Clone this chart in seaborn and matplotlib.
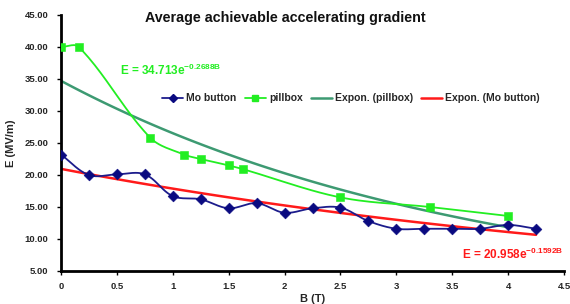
import numpy as np
import pandas as pd
import matplotlib
matplotlib.use("Agg")
import matplotlib.pyplot as plt
import seaborn as sns
from matplotlib.lines import Line2D

sns.set_style("white")
plt.rcParams['font.family'] = ['Liberation Sans', 'DejaVu Sans']
plt.rcParams['font.weight'] = 'bold'
plt.rcParams['mathtext.fontset'] = 'custom'
plt.rcParams['mathtext.bf'] = 'Liberation Sans:bold'
plt.rcParams['mathtext.rm'] = 'Liberation Sans:bold'

# Data
mo_B = [0, 0.25, 0.5, 0.75, 1.0, 1.25, 1.5, 1.75, 2.0, 2.25, 2.5, 2.75, 3.0, 3.25, 3.5, 3.75, 4.0, 4.25]
mo_E = [23.2, 20.0, 20.1, 20.1, 16.7, 16.2, 14.8, 15.6, 14.1, 14.8, 14.9, 12.8, 11.6, 11.6, 11.6, 11.6, 12.2, 11.6]
pb_B = [0, 0.16, 0.8, 1.1, 1.25, 1.5, 1.63, 2.5, 3.3, 4.0]
pb_E = [40.0, 40.0, 25.8, 23.2, 22.5, 21.5, 20.9, 16.5, 15.0, 13.6]
fit_pb = (34.713, -0.2688)
fit_mo = (20.958, -0.1592)

x_ticks = [0, 0.5, 1, 1.5, 2, 2.5, 3, 3.5, 4, 4.5]
y_ticks = [5, 10, 15, 20, 25, 30, 35, 40, 45]

C_MO = '#1c1c8c'
C_MO_M = '#0a0a80'
C_PB = '#22ee22'
C_FPB = '#3d9a72'
C_FMO = '#ff1a1a'

# screen scale (px per data unit) used only for smoothing shape
SX, SY = 111.8, 6.4


def smooth(x, y, n=24):
    pts = np.column_stack([np.asarray(x, float) * SX, np.asarray(y, float) * SY])
    P = np.vstack([pts[0], pts, pts[-1]])
    out = []
    t = np.linspace(0, 1, n, endpoint=False)[:, None]

    def unit(v):
        nv = np.hypot(*v)
        return v / nv if nv > 0 else v

    for i in range(1, len(P) - 2):
        p0, p1, p2, p3 = P[i - 1], P[i], P[i + 1], P[i + 2]
        L = np.hypot(*(p2 - p1))
        c1 = p1 + unit(p2 - p0) * L / 3
        c2 = p2 - unit(p3 - p1) * L / 3
        b = ((1 - t) ** 3) * p1 + 3 * ((1 - t) ** 2) * t * c1 + 3 * (1 - t) * t ** 2 * c2 + t ** 3 * p2
        out.append(b)
    out.append(pts[-1:])
    a = np.vstack(out)
    return a[:, 0] / SX, a[:, 1] / SY


fig = plt.figure(figsize=(5.7, 3.04), dpi=100)
ax = fig.add_axes([61 / 570, 1 - 271 / 304, (564 - 61) / 570, (271 - 15) / 304])

# fits
xf_pb = np.linspace(0, max(pb_B), 100)
xf_mo = np.linspace(0, max(mo_B), 100)
sns.lineplot(x=xf_pb, y=fit_pb[0] * np.exp(fit_pb[1] * xf_pb), ax=ax, color=C_FPB, lw=1.8, sort=False, estimator=None)
sns.lineplot(x=xf_mo, y=fit_mo[0] * np.exp(fit_mo[1] * xf_mo), ax=ax, color=C_FMO, lw=1.8, sort=False, estimator=None)

# smoothed data lines
sx, sy = smooth(mo_B, mo_E)
sns.lineplot(x=sx, y=sy, ax=ax, color=C_MO, lw=1.3, sort=False, estimator=None)
sx, sy = smooth(pb_B, pb_E)
sns.lineplot(x=sx, y=sy, ax=ax, color=C_PB, lw=1.3, sort=False, estimator=None)

sns.scatterplot(x=mo_B, y=mo_E, ax=ax, marker='D', s=30, color=C_MO_M, edgecolor=C_MO_M, zorder=5)
sns.scatterplot(x=pb_B, y=pb_E, ax=ax, marker='s', s=28, color=C_PB, edgecolor=C_PB, zorder=5)

ax.set_xlim(0, 4.5)
ax.set_ylim(5, 45)
ax.set_xticks(x_ticks)
ax.set_xticklabels([f"{v:g}" for v in x_ticks])
ax.set_yticks(y_ticks)
ax.set_yticklabels([f"{v:.2f}" for v in y_ticks])
ax.tick_params(axis='x', direction='out', length=3, width=1, labelsize=6.8, pad=5,
               bottom=True, color='black')
ax.tick_params(axis='y', direction='out', length=3, width=1, labelsize=6.8, pad=6,
               left=True, color='black')
for lab in ax.get_xticklabels() + ax.get_yticklabels():
    lab.set_fontweight('bold')

for s in ['top', 'right']:
    ax.spines[s].set_visible(False)
for s in ['left', 'bottom']:
    ax.spines[s].set_linewidth(2)
    ax.spines[s].set_color('black')

ax.set_xlabel("B (T)", fontsize=8, fontweight='bold', labelpad=2)
ax.set_ylabel("E (MV/m)", fontsize=8, fontweight='bold', labelpad=6)

fig.text(0.5, 1 - 18 / 304, "Average achievable accelerating gradient", fontsize=10.3,
         fontweight='bold', ha='center', va='center', color='#111111')

handles = [
    Line2D([], [], color=C_MO, marker='D', markersize=4.5, lw=1.3, markerfacecolor=C_MO_M, markeredgecolor=C_MO_M),
    Line2D([], [], color=C_PB, marker='s', markersize=4.5, lw=1.3),
    Line2D([], [], color=C_FPB, lw=1.8),
    Line2D([], [], color=C_FMO, lw=1.8),
]
labels = ["Mo button", "pillbox", "Expon. (pillbox)", "Expon. (Mo button)"]
ax.legend(handles, labels, loc='center', bbox_to_anchor=(0.577, 0.675), ncol=4, frameon=False,
          handlelength=2.0, handletextpad=0.3, columnspacing=0.8,
          prop={'weight': 'bold', 'size': 7.5})

ax.text(0.53, 35.6, "E = 34.713e$^{\\mathbf{-0.2688B}}$", color=C_PB, fontsize=8.5, fontweight='bold')
ax.text(3.59, 6.8, "E = 20.958e$^{\\mathbf{-0.1592B}}$", color=C_FMO, fontsize=8.5, fontweight='bold',
        clip_on=False)

fig.savefig("out.png", dpi=100)
